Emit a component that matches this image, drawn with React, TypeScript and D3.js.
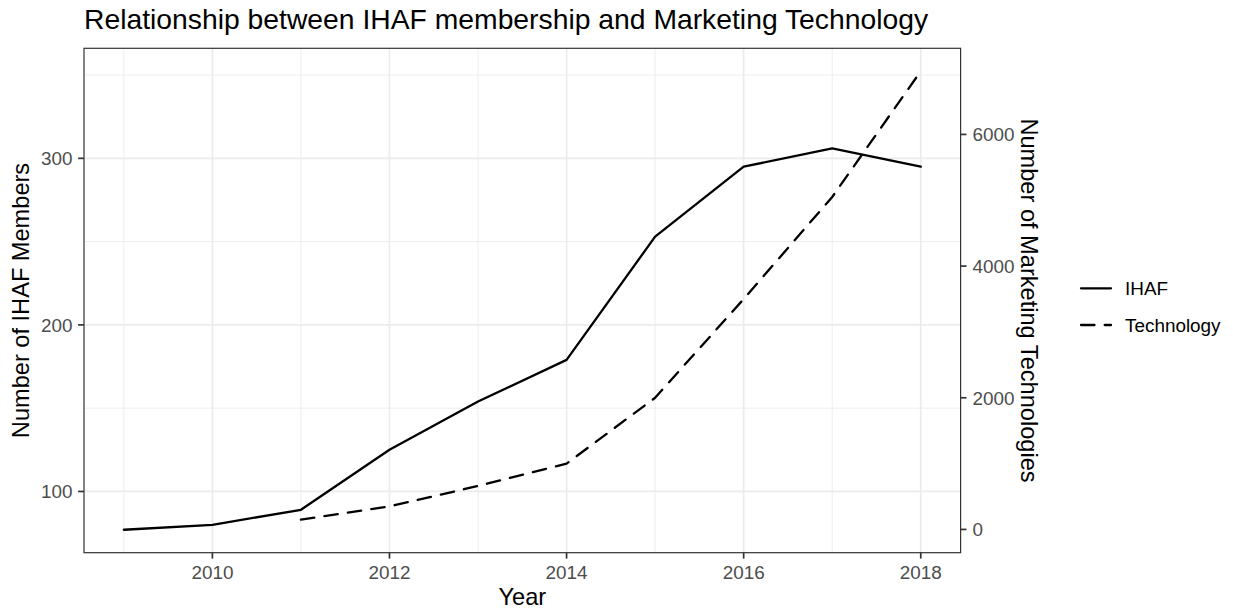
import React from "react";
import * as d3 from "d3";

const years = [2009, 2010, 2011, 2012, 2013, 2014, 2015, 2016, 2017, 2018];
const ihaf = [77, 80, 89, 125, 154, 179, 253, 295, 306, 295];
const techYears = [2011, 2012, 2013, 2014, 2015, 2016, 2017, 2018];
const tech = [150, 350, 660, 1000, 2000, 3500, 5050, 6960];
const xTicks = [2010, 2012, 2014, 2016, 2018];
const xMinor = [2009, 2011, 2013, 2015, 2017];
const yTicks = [100, 200, 300];
const yMinor = [150, 250, 350];
const rightTicks = [0, 2000, 4000, 6000];
const legendItems = ["IHAF", "Technology"];

// secondary-axis transform (technology -> primary units)
const SEC_COEF = 25.3;
const SEC_OFFSET = 77.2;
const toPrimary = (t: number) => t / SEC_COEF + SEC_OFFSET;

const W = 1233;
const H = 609;
const M = { left: 84, right: 960.6, top: 48.3, bottom: 552.7 };
const FONT = "'Liberation Sans', Arial, Helvetica, sans-serif";
const DASH = "13.5,10.2";

export default function App() {
  const xExt = d3.extent(years) as [number, number];
  const xPad = (xExt[1] - xExt[0]) * 0.05;
  const x = d3.scaleLinear().domain([xExt[0] - xPad, xExt[1] + xPad]).range([M.left, M.right]);

  const allY = ihaf.concat(tech.map(toPrimary));
  const yMin = d3.min(allY) as number;
  const yMax = d3.max(allY) as number;
  const yPad = (yMax - yMin) * 0.05;
  const y = d3.scaleLinear().domain([yMin - yPad, yMax + yPad]).range([M.bottom, M.top]);

  const line = d3
    .line<[number, number]>()
    .x((d) => x(d[0]))
    .y((d) => y(d[1]));

  const ihafPath = line(years.map((yr, i) => [yr, ihaf[i]]))!;
  const techPath = line(techYears.map((yr, i) => [yr, toPrimary(tech[i])]))!;

  const grid = "#ebebeb";
  const axisCol = "#333333";
  const tickText = "#4d4d4d";
  const tickLen = 5.9;

  return (
    <svg
      width={W}
      height={H}
      style={{ position: "absolute", left: 0, top: 0, background: "#fff" }}
      fontFamily={FONT}
    >
      <rect x={0} y={0} width={W} height={H} fill="#fff" />
      {/* minor grid */}
      {xMinor.map((v) => (
        <line key={"xm" + v} x1={x(v)} x2={x(v)} y1={M.top} y2={M.bottom} stroke={grid} strokeWidth={0.9} />
      ))}
      {yMinor.map((v) => (
        <line key={"ym" + v} x1={M.left} x2={M.right} y1={y(v)} y2={y(v)} stroke={grid} strokeWidth={0.9} />
      ))}
      {/* major grid */}
      {xTicks.map((v) => (
        <line key={"xg" + v} x1={x(v)} x2={x(v)} y1={M.top} y2={M.bottom} stroke={grid} strokeWidth={1.7} />
      ))}
      {yTicks.map((v) => (
        <line key={"yg" + v} x1={M.left} x2={M.right} y1={y(v)} y2={y(v)} stroke={grid} strokeWidth={1.7} />
      ))}

      {/* data */}
      <path d={ihafPath} fill="none" stroke="#000" strokeWidth={2.3} strokeLinejoin="round" strokeLinecap="round" />
      <path
        d={techPath}
        fill="none"
        stroke="#000"
        strokeWidth={2.3}
        strokeDasharray={DASH}
        strokeLinejoin="round"
        strokeLinecap="round"
      />

      {/* panel border */}
      <rect
        x={M.left}
        y={M.top}
        width={M.right - M.left}
        height={M.bottom - M.top}
        fill="none"
        stroke={axisCol}
        strokeWidth={1.2}
      />

      {/* bottom axis */}
      {xTicks.map((v) => (
        <g key={"xt" + v}>
          <line x1={x(v)} x2={x(v)} y1={M.bottom} y2={M.bottom + tickLen} stroke={axisCol} strokeWidth={1.7} />
          <text x={x(v)} y={579} textAnchor="middle" fontSize={18.9} fill={tickText}>
            {v}
          </text>
        </g>
      ))}
      {/* left axis */}
      {yTicks.map((v) => (
        <g key={"yt" + v}>
          <line x1={M.left - tickLen} x2={M.left} y1={y(v)} y2={y(v)} stroke={axisCol} strokeWidth={1.7} />
          <text x={72.5} y={y(v)} dy="0.36em" textAnchor="end" fontSize={18.9} fill={tickText}>
            {v}
          </text>
        </g>
      ))}
      {/* right axis */}
      {rightTicks.map((v) => (
        <g key={"rt" + v}>
          <line
            x1={M.right}
            x2={M.right + tickLen}
            y1={y(toPrimary(v))}
            y2={y(toPrimary(v))}
            stroke={axisCol}
            strokeWidth={1.7}
          />
          <text x={M.right + 12} y={y(toPrimary(v))} dy="0.36em" textAnchor="start" fontSize={18.9} fill={tickText}>
            {v}
          </text>
        </g>
      ))}

      {/* titles */}
      <text x={84} y={29} fontSize={28.3} fill="#000">
        Relationship between IHAF membership and Marketing Technology
      </text>
      <text x={(M.left + M.right) / 2} y={605} textAnchor="middle" fontSize={23.6} fill="#000">
        Year
      </text>
      <text
        transform={`translate(29,${(M.top + M.bottom) / 2}) rotate(-90)`}
        textAnchor="middle"
        fontSize={23.6}
        fill="#000"
      >
        Number of IHAF Members
      </text>
      <text
        transform={`translate(1021,${(M.top + M.bottom) / 2}) rotate(90)`}
        textAnchor="middle"
        fontSize={23.6}
        fill="#000"
      >
        Number of Marketing Technologies
      </text>

      {/* legend */}
      {legendItems.map((name, i) => {
        const cy = 288.3 + i * 36.7;
        return (
          <g key={name}>
            <line
              x1={1081}
              x2={1111}
              y1={cy}
              y2={cy}
              stroke="#000"
              strokeWidth={2.3}
              strokeLinecap="round"
              strokeDasharray={i === 1 ? DASH : undefined}
            />
            <text x={1125} y={cy} dy="0.36em" fontSize={18.9} fill="#000">
              {name}
            </text>
          </g>
        );
      })}
    </svg>
  );
}
